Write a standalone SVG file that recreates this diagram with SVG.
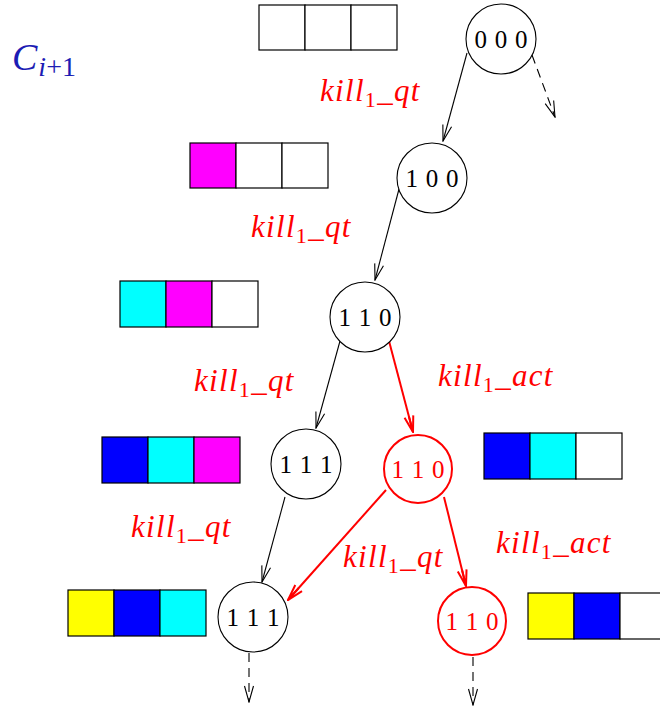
<svg xmlns="http://www.w3.org/2000/svg" width="660" height="708" viewBox="0 0 660 708">
<style>
.cell{stroke:#000;stroke-width:1.2}
.nd{fill:#fff;stroke:#000;stroke-width:1.1}
.nr{fill:#fff;stroke:#f00;stroke-width:2}
.nt{font-family:"Liberation Serif",serif;font-size:25px;word-spacing:1.5px;text-anchor:middle;fill:#000}
.ntr{fill:#f00}
.lb{font-family:"Liberation Serif",serif;font-size:31px;font-style:italic;fill:#f00;letter-spacing:1.3px}
.sub{font-style:normal;font-size:22px}
.e{fill:none;stroke:#000;stroke-width:1.1}
.er{fill:none;stroke:#f00;stroke-width:2}
.d{stroke-dasharray:9,6}
</style>
<defs>
<marker id="ab" markerUnits="userSpaceOnUse" viewBox="-17 -6 18 12" refX="0" refY="0" markerWidth="18" markerHeight="12" orient="auto">
<path d="M-16,-4.5 L0,0 L-16,4.5" fill="none" stroke="#000" stroke-width="1.1"/>
</marker>
<marker id="ar" markerUnits="userSpaceOnUse" viewBox="-17 -6 18 12" refX="0" refY="0" markerWidth="18" markerHeight="12" orient="auto">
<path d="M-16,-4.5 L0,0 L-16,4.5 M-16,0 L0,0" fill="none" stroke="#f00" stroke-width="2"/>
</marker>
</defs>

<text x="12" y="70" font-family="Liberation Serif,serif" font-style="italic" font-size="38" fill="#1c1cb4">C<tspan font-size="28" dy="6" dx="1">i</tspan><tspan font-size="28" font-style="normal">+1</tspan></text>

<g id="connectors">
<line class="e" x1="467" y1="53" x2="443" y2="141" marker-end="url(#ab)"/>
<line class="e d" x1="532" y1="55" x2="555" y2="117" marker-end="url(#ab)"/>
<line class="e" x1="399" y1="189" x2="375" y2="280" marker-end="url(#ab)"/>
<line class="e" x1="340" y1="341" x2="316" y2="428" marker-end="url(#ab)"/>
<line class="er" x1="389" y1="341" x2="413" y2="432" marker-end="url(#ar)"/>
<line class="e" x1="285" y1="497" x2="262" y2="582" marker-end="url(#ab)"/>
<line class="er" x1="386" y1="490" x2="288" y2="600" marker-end="url(#ar)"/>
<line class="er" x1="444" y1="497" x2="466" y2="586" marker-end="url(#ar)"/>
<line class="e d" x1="249" y1="653" x2="249" y2="702" marker-end="url(#ab)"/>
<line class="e d" x1="473" y1="657" x2="473" y2="705" marker-end="url(#ab)"/>
</g>

<g id="arr0">
<rect class="cell" x="259" y="5" width="46" height="45" fill="#fff"/>
<rect class="cell" x="305" y="5" width="46" height="45" fill="#fff"/>
<rect class="cell" x="351" y="5" width="46" height="45" fill="#fff"/>
</g>
<g id="arr1">
<rect class="cell" x="190" y="143" width="46" height="45" fill="#f0f"/>
<rect class="cell" x="236" y="143" width="46" height="45" fill="#fff"/>
<rect class="cell" x="282" y="143" width="46" height="45" fill="#fff"/>
</g>
<g id="arr2">
<rect class="cell" x="120" y="281" width="46" height="46" fill="#0ff"/>
<rect class="cell" x="166" y="281" width="46" height="46" fill="#f0f"/>
<rect class="cell" x="212" y="281" width="46" height="46" fill="#fff"/>
</g>
<g id="arr3">
<rect class="cell" x="102" y="437" width="46" height="46" fill="#00f"/>
<rect class="cell" x="148" y="437" width="46" height="46" fill="#0ff"/>
<rect class="cell" x="194" y="437" width="46" height="46" fill="#f0f"/>
</g>
<g id="arr3r">
<rect class="cell" x="484" y="433" width="46" height="46" fill="#00f"/>
<rect class="cell" x="530" y="433" width="46" height="46" fill="#0ff"/>
<rect class="cell" x="576" y="433" width="46" height="46" fill="#fff"/>
</g>
<g id="arr4">
<rect class="cell" x="68" y="590" width="46" height="46" fill="#ff0"/>
<rect class="cell" x="114" y="590" width="46" height="46" fill="#00f"/>
<rect class="cell" x="160" y="590" width="46" height="46" fill="#0ff"/>
</g>
<g id="arr4r">
<rect class="cell" x="528" y="593" width="46" height="46" fill="#ff0"/>
<rect class="cell" x="574" y="593" width="46" height="46" fill="#00f"/>
<rect class="cell" x="620" y="593" width="46" height="46" fill="#fff"/>
</g>

<g id="n000"><circle class="nd" cx="501" cy="39" r="35"/><text class="nt" x="501" y="48">0 0 0</text></g>
<g id="n100"><circle class="nd" cx="432" cy="178" r="35"/><text class="nt" x="432" y="187">1 0 0</text></g>
<g id="n110"><circle class="nd" cx="365" cy="317" r="35"/><text class="nt" x="365" y="326">1 1 0</text></g>
<g id="n111a"><circle class="nd" cx="306" cy="464" r="35"/><text class="nt" x="306" y="473">1 1 1</text></g>
<g id="n110r"><circle class="nr" cx="418" cy="469" r="34"/><text class="nt ntr" x="418" y="478">1 1 0</text></g>
<g id="n111b"><circle class="nd" cx="253" cy="617" r="35"/><text class="nt" x="253" y="626">1 1 1</text></g>
<g id="n110rb"><circle class="nr" cx="472" cy="621" r="34"/><text class="nt ntr" x="472" y="630">1 1 0</text></g>

<g id="labels">
<text class="lb" x="320" y="101">kill<tspan class="sub" dy="6">1</tspan><tspan dy="-6">_qt</tspan></text>
<text class="lb" x="251" y="237">kill<tspan class="sub" dy="6">1</tspan><tspan dy="-6">_qt</tspan></text>
<text class="lb" x="194" y="391">kill<tspan class="sub" dy="6">1</tspan><tspan dy="-6">_qt</tspan></text>
<text class="lb" x="438" y="386">kill<tspan class="sub" dy="6">1</tspan><tspan dy="-6">_act</tspan></text>
<text class="lb" x="131" y="537">kill<tspan class="sub" dy="6">1</tspan><tspan dy="-6">_qt</tspan></text>
<text class="lb" x="343" y="567">kill<tspan class="sub" dy="6">1</tspan><tspan dy="-6">_qt</tspan></text>
<text class="lb" x="496" y="553">kill<tspan class="sub" dy="6">1</tspan><tspan dy="-6">_act</tspan></text>
</g>
</svg>
